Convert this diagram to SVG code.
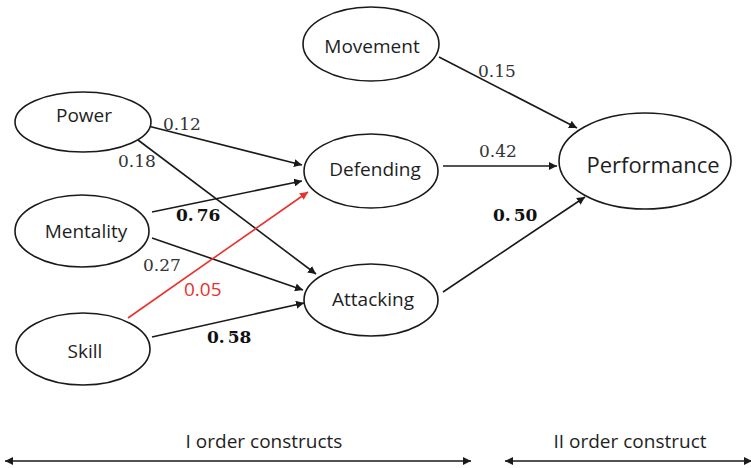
<svg xmlns="http://www.w3.org/2000/svg" width="751" height="468" viewBox="0 0 751 468">
<style>
.node ellipse{fill:#fff;stroke:#1a1a1a;stroke-width:1.6}
.lbl{font-family:"Open Sans","Liberation Sans",sans-serif;font-size:19px;fill:#1e1e1e;text-anchor:middle}
.edge{stroke:#1a1a1a;stroke-width:1.6;fill:none;marker-end:url(#ah)}
.red{stroke:#e8312c;marker-end:url(#ahr)}
.w{font-family:"DejaVu Serif","Liberation Serif",serif;font-size:17px;fill:#333}
.b{font-weight:bold;fill:#111}
.note{font-family:"Open Sans","Liberation Sans",sans-serif;font-size:19px;fill:#1e1e1e;text-anchor:middle}
.scale{stroke:#1a1a1a;stroke-width:1.6;fill:none;marker-end:url(#ah);marker-start:url(#ahs)}
</style>
<defs>
<marker id="ah" viewBox="0 0 10 10" refX="10" refY="5" markerWidth="8" markerHeight="8" markerUnits="userSpaceOnUse" orient="auto"><path d="M0,0 L10,5 L0,10 z" fill="#1a1a1a"/></marker>
<marker id="ahs" viewBox="0 0 10 10" refX="0" refY="5" markerWidth="8" markerHeight="8" markerUnits="userSpaceOnUse" orient="auto"><path d="M10,0 L0,5 L10,10 z" fill="#1a1a1a"/></marker>
<marker id="ahr" viewBox="0 0 10 10" refX="10" refY="5" markerWidth="8" markerHeight="8" markerUnits="userSpaceOnUse" orient="auto"><path d="M0,0 L10,5 L0,10 z" fill="#e8312c"/></marker>
</defs>
<rect width="751" height="468" fill="#fff"/>
<g id="connectors">
<line class="edge" x1="148" y1="126" x2="302" y2="165"/>
<line class="edge" x1="138" y1="140" x2="316" y2="274"/>
<line class="edge" x1="152" y1="212" x2="302" y2="181"/>
<line class="edge" x1="152" y1="238" x2="303" y2="290"/>
<line class="edge" x1="152" y1="337" x2="304" y2="303"/>
<line class="edge red" x1="128" y1="318" x2="308" y2="192"/>
<line class="edge" x1="439" y1="57" x2="577" y2="128"/>
<line class="edge" x1="443" y1="166" x2="557" y2="166"/>
<line class="edge" x1="443" y1="292" x2="585" y2="197"/>
</g>
<g id="weights">
<text class="w" x="163" y="130">0.12</text>
<text class="w" x="118" y="167">0.18</text>
<text class="w b" x="176" y="221">0.<tspan dx="3">76</tspan></text>
<text class="w" x="143" y="271">0.27</text>
<text x="184" y="296" style="font-family:'Open Sans','Liberation Sans',sans-serif;font-size:19px;fill:#e8312c">0.05</text>
<text class="w b" x="207" y="343">0.<tspan dx="3">58</tspan></text>
<text class="w" x="478" y="77">0.15</text>
<text class="w" x="479" y="157">0.42</text>
<text class="w b" x="493" y="221">0.<tspan dx="3">50</tspan></text>
</g>
<g id="power" class="node"><ellipse cx="83" cy="122" rx="68" ry="30"/><text class="lbl" x="84" y="122">Power</text></g>
<g id="mentality" class="node"><ellipse cx="82" cy="231" rx="67" ry="36"/><text class="lbl" x="86" y="238">Mentality</text></g>
<g id="skill" class="node"><ellipse cx="83" cy="349" rx="67" ry="36"/><text class="lbl" x="85" y="358">Skill</text></g>
<g id="movement" class="node"><ellipse cx="371" cy="44" rx="68" ry="37"/><text class="lbl" x="372" y="53">Movement</text></g>
<g id="defending" class="node"><ellipse cx="371" cy="171" rx="67" ry="37"/><text class="lbl" x="375" y="176">Defending</text></g>
<g id="attacking" class="node"><ellipse cx="371" cy="300" rx="67" ry="36"/><text class="lbl" x="373" y="306">Attacking</text></g>
<g id="performance" class="node"><ellipse cx="645" cy="161" rx="86" ry="48"/><text class="lbl" x="653" y="173" style="font-size:22px">Performance</text></g>
<g id="scale">
<line class="scale" x1="5" y1="461" x2="471" y2="461"/>
<line class="scale" x1="505" y1="461" x2="752" y2="461"/>
<text class="note" x="264" y="448">I order constructs</text>
<text class="note" x="630" y="448">II order construct</text>
</g>
</svg>
